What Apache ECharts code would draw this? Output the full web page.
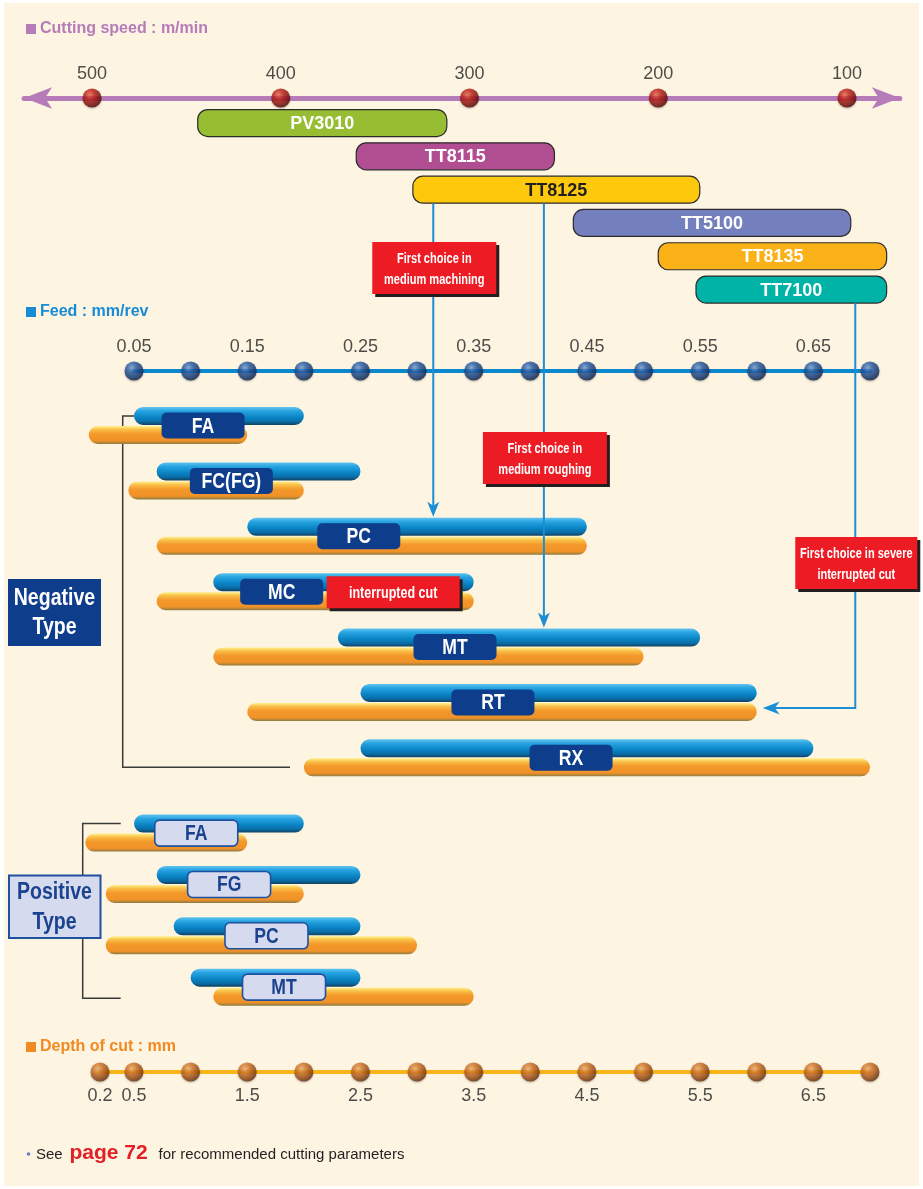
<!DOCTYPE html>
<html>
<head>
<meta charset="utf-8">
<title>Grade and chipbreaker selection</title>
<script src="https://cdn.jsdelivr.net/npm/echarts@6.0.0/dist/echarts.min.js"></script>
<style>
  html, body { margin: 0; padding: 0; background: #fff; }
  #chart { width: 923px; height: 1189px; }
</style>
</head>
<body>
<div id="chart"></div>
<script>
// cutting speed (m/min) covered by each grade
const speedTicks = [500, 400, 300, 200, 100];
const grades = ["PV3010", "TT8115", "TT8125", "TT5100", "TT8135", "TT7100"];
const gradeSpeedHigh = [444, 360, 330, 245, 200, 180];
const gradeSpeedLow = [312, 255, 178, 98, 79, 79];

// feed (mm/rev) and depth of cut (mm) scales
const feedTicks = [0.05, 0.1, 0.15, 0.2, 0.25, 0.3, 0.35, 0.4, 0.45, 0.5, 0.55, 0.6, 0.65, 0.7];
const feedTickLabels = [0.05, 0.15, 0.25, 0.35, 0.45, 0.55, 0.65];
const depthTicks = [0.2, 0.5, 1, 1.5, 2, 2.5, 3, 3.5, 4, 4.5, 5, 5.5, 6, 6.5, 7];
const depthTickLabels = [0.2, 0.5, 1.5, 2.5, 3.5, 4.5, 5.5, 6.5];

// negative type chipbreakers
const negTypes = ["FA", "FC(FG)", "PC", "MC", "MT", "RT", "RX"];
const negFeedMin = [0.05, 0.07, 0.15, 0.12, 0.23, 0.25, 0.25];
const negFeedMax = [0.20, 0.25, 0.45, 0.35, 0.55, 0.60, 0.65];
const negDepthMin = [0.1, 0.45, 0.7, 0.7, 1.2, 1.5, 2.0];
const negDepthMax = [1.5, 2.0, 4.5, 3.5, 5.0, 6.0, 7.0];

// positive type chipbreakers
const posTypes = ["FA", "FG", "PC", "MT"];
const posFeedMin = [0.05, 0.07, 0.085, 0.10];
const posFeedMax = [0.20, 0.25, 0.25, 0.25];
const posDepthMin = [0.07, 0.25, 0.25, 1.2];
const posDepthMax = [1.5, 2.0, 3.0, 3.5];

// first choice pointers, grade -> chipbreaker
const choiceText = [["First choice in", "medium machining"], ["First choice in", "medium roughing"], ["First choice in severe", "interrupted cut"]];
const choiceGrade = ["TT8125", "TT8125", "TT7100"];
const choiceType = ["PC", "MT", "RT"];

// ---- layout / style ----
const FONT = '"Liberation Sans", Arial, Helvetica, sans-serif';
const BG = "#fdf4e1";
const SPEED_MIN = 72, SPEED_MAX = 536;
const SPEED_LEFT = 24.05, SPEED_RIGHT = 23.15;
const FEED_LEFT = 134, FEED_RIGHT = 53;
const GRADE_COLORS = ["#97bd33", "#b14d91", "#fec80d", "#747fbe", "#fbb118", "#00b3a7"];
const GRADE_TEXT = ["#fff", "#fff", "#231f20", "#fff", "#fff", "#fff"];
const NEG_LABEL_AT = [0.111, 0.136, 0.2485, 0.1804, 0.3335, 0.367, 0.436];
const POS_LABEL_AT = [0.105, 0.134, 0.167, 0.1825];
const CHOICE_FEED = [0.3143, 0.412, 0.687];
const CHOICE_BOX_Y = [268, 458, 563];
const BAR_H = 18, BAR_DY = 9.5;

const ball = stops => ({ type: "radial", x: 0.38, y: 0.32, r: 0.72, colorStops: stops.map((c, i) => ({ offset: [0, 0.35, 0.8, 1][i], color: c })) });
const RED_BALL = ball(["#f0705a", "#c6231b", "#760d0a", "#480605"]);
const BLUE_BALL = ball(["#7ba6dc", "#2b60a8", "#13346b", "#0a1e44"]);
const ORANGE_BALL = ball(["#f7b86c", "#d8782a", "#8c4412", "#5c2b0a"]);
const vgrad = stops => ({ type: "linear", x: 0, y: 0, x2: 0, y2: 1, colorStops: stops.map(s => ({ offset: s[0], color: s[1] })) });
const BLUE_BAR = vgrad([[0, "#62c4f0"], [0.22, "#28a4e1"], [0.55, "#0b87c8"], [0.82, "#0a6ca6"], [1, "#12405e"]]);
const ORANGE_BAR = vgrad([[0, "#fff08c"], [0.2, "#f9be46"], [0.45, "#f4982a"], [0.82, "#f09228"], [1, "#8e7b42"]]);

function squeezed(x, y, text, size, fill, scale, lineHeight) {
  return {
    type: "text", x: x, y: y, scaleX: scale,
    style: { text: text, x: 0, y: 0, align: "center", verticalAlign: "middle", fill: fill,
      font: "bold " + size + "px " + FONT, lineHeight: lineHeight || size }
  };
}

function gradeBar(params, api) {
  const a = api.coord([api.value(0), api.value(2)]);
  const b = api.coord([api.value(1), api.value(2)]);
  const x0 = Math.min(a[0], b[0]), x1 = Math.max(a[0], b[0]);
  const i = params.dataIndex;
  return {
    type: "group",
    children: [
      { type: "rect", shape: { x: x0, y: a[1] - 13.5, width: x1 - x0, height: 27, r: 10 },
        style: { fill: GRADE_COLORS[i], stroke: "#2b2b2b", lineWidth: 1.2 } },
      squeezed((x0 + x1) / 2, a[1] + 1, grades[i], 18, GRADE_TEXT[i], 1)
    ]
  };
}

function capsule(fill, dy) {
  return function (params, api) {
    const a = api.coord([api.value(0), api.value(2)]);
    const b = api.coord([api.value(1), api.value(2)]);
    return {
      type: "rect",
      shape: { x: a[0], y: a[1] + dy - BAR_H / 2, width: b[0] - a[0], height: BAR_H, r: BAR_H / 2 },
      style: { fill: fill }
    };
  };
}

function tag(names, fill, stroke, textFill) {
  return function (params, api) {
    const p = api.coord([api.value(0), api.value(1)]);
    return {
      type: "group",
      children: [
        { type: "rect", shape: { x: p[0] - 41.5, y: p[1] - 13, width: 83, height: 26, r: 5 },
          style: { fill: fill, stroke: stroke, lineWidth: stroke ? 1.6 : 0 } },
        squeezed(p[0], p[1] + 1, names[params.dataIndex], 22, textFill, 0.8)
      ]
    };
  };
}

function tickDots(xi, yi, ticks, labels, color, pos, dist) {
  return {
    type: "scatter", xAxisIndex: xi, yAxisIndex: yi, silent: true, clip: false, z: 4,
    data: ticks.map(v => [v, 0]),
    symbolSize: 19,
    itemStyle: { color: color, shadowBlur: 2, shadowColor: "rgba(0,0,0,0.35)", shadowOffsetY: 1 },
    label: { show: true, position: pos, distance: dist, fontFamily: FONT, fontSize: 18, color: "#222",
      formatter: p => labels.includes(p.value[0]) ? String(p.value[0]) : "" }
  };
}

const axisLineX = (grid, min, max, inverse, lineStyle, symbol) => ({
  gridIndex: grid, type: "value", min: min, max: max, inverse: inverse, position: "bottom",
  axisLine: { show: true, onZero: false, lineStyle: lineStyle, symbol: symbol || "none", symbolSize: [16, 28] },
  axisTick: { show: false }, axisLabel: { show: false }, splitLine: { show: false }
});
const hiddenX = (grid, min, max, inverse) => ({ gridIndex: grid, type: "value", min: min, max: max, inverse: !!inverse, show: false });

const chart = echarts.init(document.getElementById("chart"), null, { renderer: "canvas" });
chart.setOption({
  animation: false,
  grid: [
    { left: SPEED_LEFT, right: SPEED_RIGHT, top: 96, height: 2 },
    { left: SPEED_LEFT, right: SPEED_RIGHT, top: 106.4, height: 199.8 },
    { left: FEED_LEFT, right: FEED_RIGHT, top: 369, height: 2 },
    { left: FEED_LEFT, right: FEED_RIGHT, top: 397.8, height: 387.7 },
    { left: FEED_LEFT, right: FEED_RIGHT, top: 807.4, height: 205.4 },
    { left: 100, right: FEED_RIGHT, top: 1070, height: 2 }
  ],
  xAxis: [
    axisLineX(0, SPEED_MIN, SPEED_MAX, true, { color: "#b57cb9", width: 5 }, ["arrow", "arrow"]),
    hiddenX(1, SPEED_MIN, SPEED_MAX, true),
    axisLineX(2, 0.05, 0.7, false, { color: "#0b87cd", width: 4 }),
    hiddenX(3, 0.05, 0.7),
    hiddenX(3, 0.5, 7),
    hiddenX(4, 0.05, 0.7),
    hiddenX(4, 0.5, 7),
    axisLineX(5, 0.2, 7, false, { color: "#f7b519", width: 4 })
  ],
  yAxis: [
    { gridIndex: 0, type: "value", min: 0, max: 1, show: false },
    { gridIndex: 1, type: "category", data: grades, inverse: true, show: false },
    { gridIndex: 2, type: "value", min: 0, max: 1, show: false },
    { gridIndex: 3, type: "category", data: negTypes, inverse: true, show: false },
    { gridIndex: 4, type: "category", data: posTypes, inverse: true, show: false },
    { gridIndex: 5, type: "value", min: 0, max: 1, show: false }
  ],
  series: [
    tickDots(0, 0, speedTicks, speedTicks, RED_BALL, "top", 5),
    { type: "custom", xAxisIndex: 1, yAxisIndex: 1, renderItem: gradeBar, z: 3,
      data: grades.map((g, i) => [gradeSpeedHigh[i], gradeSpeedLow[i], i]), encode: { x: [0, 1], y: 2 } },
    tickDots(2, 2, feedTicks, feedTickLabels, BLUE_BALL, "top", 5),
    { type: "custom", xAxisIndex: 3, yAxisIndex: 3, renderItem: capsule(BLUE_BAR, -BAR_DY), z: 3,
      data: negTypes.map((n, i) => [negFeedMin[i], negFeedMax[i], i]), encode: { x: [0, 1], y: 2 } },
    { type: "custom", xAxisIndex: 4, yAxisIndex: 3, renderItem: capsule(ORANGE_BAR, BAR_DY), z: 4,
      data: negTypes.map((n, i) => [negDepthMin[i], negDepthMax[i], i]), encode: { x: [0, 1], y: 2 } },
    { type: "custom", xAxisIndex: 3, yAxisIndex: 3, renderItem: tag(negTypes, "#0d3d8b", null, "#fff"), z: 6,
      data: negTypes.map((n, i) => [NEG_LABEL_AT[i], i]), encode: { x: 0, y: 1 } },
    { type: "custom", xAxisIndex: 5, yAxisIndex: 4, renderItem: capsule(BLUE_BAR, -BAR_DY), z: 3,
      data: posTypes.map((n, i) => [posFeedMin[i], posFeedMax[i], i]), encode: { x: [0, 1], y: 2 } },
    { type: "custom", xAxisIndex: 6, yAxisIndex: 4, renderItem: capsule(ORANGE_BAR, BAR_DY), z: 4,
      data: posTypes.map((n, i) => [posDepthMin[i], posDepthMax[i], i]), encode: { x: [0, 1], y: 2 } },
    { type: "custom", xAxisIndex: 5, yAxisIndex: 4, renderItem: tag(posTypes, "#d6daee", "#1f4f9f", "#1a428f"), z: 6,
      data: posTypes.map((n, i) => [POS_LABEL_AT[i], i]), encode: { x: 0, y: 1 } },
    tickDots(7, 5, depthTicks, depthTickLabels, ORANGE_BALL, "bottom", 6)
  ]
});

// ---- annotations placed from the axes ----
const feedX = v => chart.convertToPixel({ xAxisIndex: 3 }, v);
const gradeY = name => chart.convertToPixel({ yAxisIndex: 1 }, name);
const negY = name => chart.convertToPixel({ yAxisIndex: 3 }, name);
const posY = name => chart.convertToPixel({ yAxisIndex: 4 }, name);
const ARROW_BLUE = "#1b8fd6";

const g = [];
g.push({ type: "rect", z: -10, shape: { x: 4, y: 3, width: 915, height: 1183 }, style: { fill: BG } });

function header(y, text, color) {
  g.push({ type: "rect", z: 10, shape: { x: 26, y: y - 5, width: 10, height: 10 }, style: { fill: color } });
  g.push({ type: "text", z: 10, x: 40, y: y, style: { text: text, align: "left", verticalAlign: "middle", fill: color, font: "bold 16px " + FONT } });
}
header(29, "Cutting speed : m/min", "#b57cb9");
header(312, "Feed : mm/rev", "#168bd6");
header(1047, "Depth of cut : mm", "#f28a22");

// brackets
const negTop = negY("FA") - BAR_DY, negBottom = negY("RX") + BAR_DY;
g.push({ type: "polyline", z: 1, shape: { points: [[feedX(negFeedMin[0]), negTop], [122.7, negTop], [122.7, negBottom], [290, negBottom]] },
  style: { stroke: "#3a3a3a", lineWidth: 1.5, fill: null } });
const posTop = posY("FA") - BAR_DY, posBottom = posY("MT") + BAR_DY + 1.5;
g.push({ type: "polyline", z: 1, shape: { points: [[120.7, posTop], [82.7, posTop], [82.7, posBottom], [120.7, posBottom]] },
  style: { stroke: "#3a3a3a", lineWidth: 1.5, fill: null } });

// type boxes
g.push({ type: "rect", z: 10, shape: { x: 8, y: 579, width: 93, height: 67 }, style: { fill: "#0d3d8b" } });
g.push(Object.assign(squeezed(54.5, 613, "Negative\nType", 23, "#fff", 0.85, 29), { z: 11 }));
g.push({ type: "rect", z: 10, shape: { x: 9, y: 875.5, width: 91.5, height: 62.5 }, style: { fill: "#d6daee", stroke: "#1f4f9f", lineWidth: 2 } });
g.push(Object.assign(squeezed(54.5, 908, "Positive\nType", 23, "#1a428f", 0.85, 30), { z: 11 }));

// first choice pointers
function redBox(cx, cy, w, h, text, size, lh) {
  g.push({ type: "rect", z: 10, shape: { x: cx - w / 2 + 3, y: cy - h / 2 + 3, width: w, height: h }, style: { fill: "#231f20" } });
  g.push({ type: "rect", z: 11, shape: { x: cx - w / 2, y: cy - h / 2, width: w, height: h }, style: { fill: "#ed1c24" } });
  g.push(Object.assign(squeezed(cx, cy + 1, text, size, "#fff", 0.76, lh), { z: 12 }));
}
function arrowDown(x, y) {
  return { type: "polygon", z: 6, shape: { points: [[x, y], [x - 6, y - 15], [x, y - 11], [x + 6, y - 15]] }, style: { fill: ARROW_BLUE } };
}
function arrowLeft(x, y) {
  return { type: "polygon", z: 6, shape: { points: [[x, y], [x + 17, y - 6.5], [x + 12, y], [x + 17, y + 6.5]] }, style: { fill: ARROW_BLUE } };
}
choiceText.forEach((t, i) => {
  const x = feedX(CHOICE_FEED[i]);
  const y0 = gradeY(choiceGrade[i]) + 13.5;
  const row = negY(choiceType[i]);
  if (i < 2) {
    const tip = row - BAR_DY - BAR_H / 2 - 1;
    g.push({ type: "line", z: 5, shape: { x1: x, y1: y0, x2: x, y2: tip - 8 }, style: { stroke: ARROW_BLUE, lineWidth: 2 } });
    g.push(arrowDown(x, tip));
  } else {
    const yElbow = row + 5.5;
    const tipX = feedX(negFeedMax[negTypes.indexOf(choiceType[i])]) + 6;
    g.push({ type: "polyline", z: 5, shape: { points: [[x, y0], [x, yElbow], [tipX + 10, yElbow]] }, style: { stroke: ARROW_BLUE, lineWidth: 2, fill: null } });
    g.push(arrowLeft(tipX, yElbow));
  }
  redBox(x + 1, CHOICE_BOX_Y[i], i === 2 ? 122 : 124, 52, t.join("\n"), 14.5, 21);
});

// "interrupted cut" tag next to MC
const mcLabelRight = feedX(NEG_LABEL_AT[3]) + 41.5;
redBox(mcLabelRight + 3.5 + 66.5, negY("MC") + 0.5, 133, 32, "interrupted cut", 16.5, 18);

// footer
g.push({ type: "circle", z: 10, shape: { cx: 28.5, cy: 1154, r: 1.8 }, style: { fill: "#5b7fc8" } });
g.push({ type: "text", z: 10, x: 36, y: 1155, style: { text: "See", align: "left", verticalAlign: "middle", fill: "#231f20", font: "15px " + FONT } });
g.push({ type: "text", z: 10, x: 69.5, y: 1153, style: { text: "page 72", align: "left", verticalAlign: "middle", fill: "#e31e24", font: "bold 21px " + FONT } });
g.push({ type: "text", z: 10, x: 158.5, y: 1155, style: { text: "for recommended cutting parameters", align: "left", verticalAlign: "middle", fill: "#231f20", font: "15px " + FONT } });

chart.setOption({ graphic: { elements: g } });
</script>
</body>
</html>
